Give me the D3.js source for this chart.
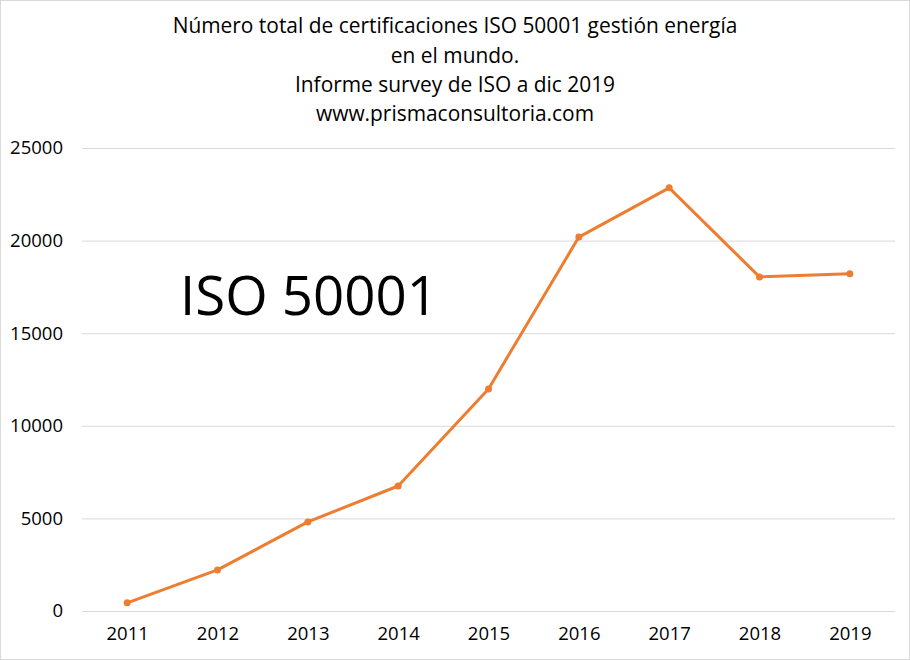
<!DOCTYPE html>
<html>
<head>
<meta charset="utf-8">
<script src="https://cdn.jsdelivr.net/npm/d3@7"></script>
<style>
  body { margin: 0; background: #fff; }
  text { font-family: "Open Sans", "Noto Sans", sans-serif; fill: #000; }
</style>
</head>
<body>
<svg id="chart" width="910" height="660"></svg>
<script>
// Data
const years = ["2011", "2012", "2013", "2014", "2015", "2016", "2017", "2018", "2019"];
const certificates = [440, 2220, 4810, 6750, 11990, 20190, 22850, 18040, 18210];
const yTicks = [0, 5000, 10000, 15000, 20000, 25000];
const titleLines = [
    "Número total de certificaciones ISO 50001 gestión energía",
    "en el mundo.",
    "Informe survey de ISO a dic 2019",
    "www.prismaconsultoria.com"
];

const size = { width: 910, height: 660 };
const margin = { top: 148, right: 15, bottom: 49, left: 82 };

const svg = d3.select("#chart");

// outer frame
svg.append("rect")
    .attr("x", 0.5).attr("y", 0.5)
    .attr("width", size.width - 1).attr("height", size.height - 1)
    .attr("fill", "#fff").attr("stroke", "#d9d9d9");

const x = d3.scalePoint()
    .domain(years)
    .range([margin.left, size.width - margin.right])
    .padding(0.5);

const y = d3.scaleLinear()
    .domain([0, 25000])
    .range([size.height - margin.bottom, margin.top]);

// shrink a text element's font until it reaches a target width
function fitWidth(sel, target, startSize) {
    sel.style("font-size", startSize + "px");
    const w = sel.node().getComputedTextLength();
    sel.style("font-size", (startSize * target / w) + "px");
}

// gridlines + y labels
const yAxis = d3.axisLeft(y)
    .tickValues(yTicks)
    .tickSize(-(size.width - margin.left - margin.right))
    .tickPadding(19)
    .tickFormat(d3.format("d"));

const gy = svg.append("g")
    .attr("transform", `translate(${margin.left},0)`)
    .call(yAxis);
gy.select(".domain").remove();
gy.selectAll(".tick line").attr("stroke", "#d9d9d9").attr("stroke-width", 1);
gy.selectAll(".tick text")
    .attr("fill", "#000")
    .style("font-family", "'Open Sans', sans-serif")
    .style("font-size", "18.5px");

// x labels
const xAxis = d3.axisBottom(x).tickSize(0).tickPadding(16);
const gx = svg.append("g")
    .attr("transform", `translate(0,${size.height - margin.bottom})`)
    .call(xAxis);
gx.select(".domain").remove();
gx.selectAll(".tick text")
    .attr("fill", "#000")
    .style("font-family", "'Open Sans', sans-serif")
    .style("font-size", "18.5px");

// series line
const line = d3.line()
    .x((d, i) => x(years[i]))
    .y(d => y(d));

svg.append("path")
    .datum(certificates)
    .attr("d", line)
    .attr("fill", "none")
    .attr("stroke", "#ed7d31")
    .attr("stroke-width", 3)
    .attr("stroke-linejoin", "round");

svg.selectAll("circle.pt")
    .data(certificates)
    .enter().append("circle")
    .attr("class", "pt")
    .attr("cx", (d, i) => x(years[i]))
    .attr("cy", d => y(d))
    .attr("r", 3.5)
    .attr("fill", "#ed7d31");

// title
const titleY = [33, 63, 92, 121];
const titles = svg.selectAll("text.title")
    .data(titleLines)
    .enter().append("text")
    .attr("class", "title")
    .attr("x", 455)
    .attr("y", (d, i) => titleY[i])
    .attr("text-anchor", "middle")
    .text(d => d);
fitWidth(titles.filter((d, i) => i === 0), 565, 20);
titles.style("font-size", titles.filter((d, i) => i === 0).style("font-size"));

// big label
const big = svg.append("text")
    .attr("x", 180)
    .attr("y", 315)
    .text("ISO 50001");
fitWidth(big, 258, 60);
</script>
</body>
</html>
